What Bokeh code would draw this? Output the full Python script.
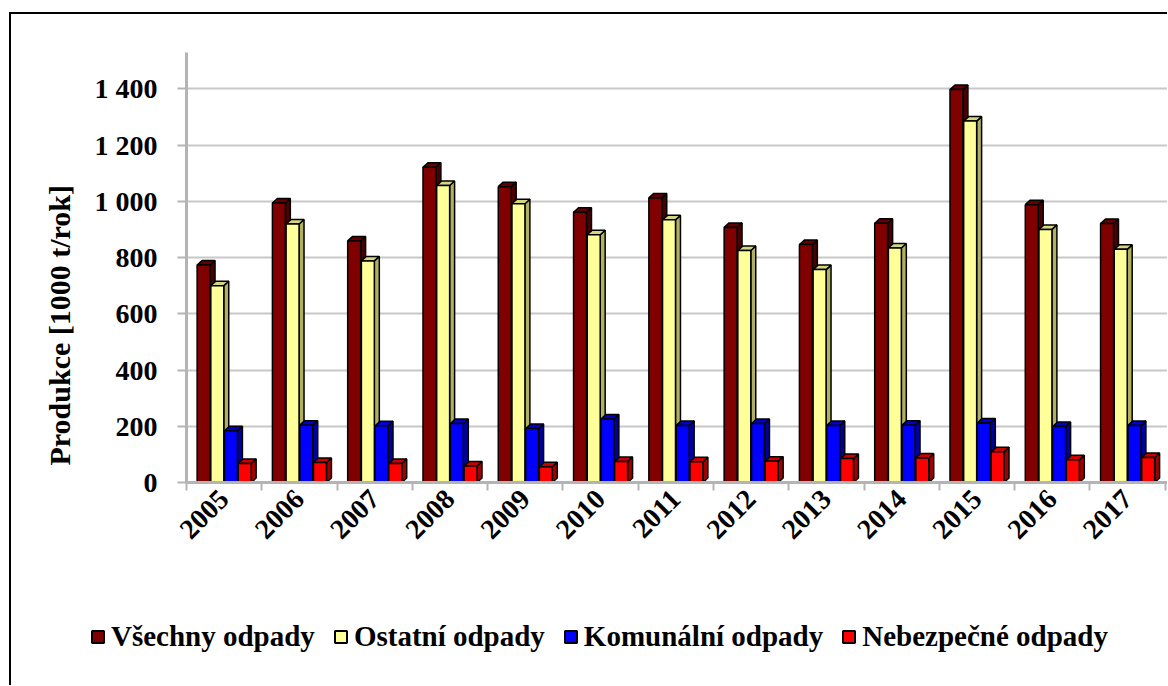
import math
from bokeh.plotting import figure
from bokeh.layouts import column
from bokeh.models import Range1d, FixedTicker, Legend, LegendItem, Title
from bokeh.embed import file_html
from bokeh.resources import INLINE

# ---------------- data ----------------
years = ["2005", "2006", "2007", "2008", "2009", "2010", "2011",
         "2012", "2013", "2014", "2015", "2016", "2017"]
vsechny = [773, 994, 859, 1121, 1052, 961, 1012, 907, 846, 922, 1397, 988, 921]
ostatni = [700, 919, 788, 1056, 991, 881, 934, 825, 757, 834, 1285, 900, 829]
komunalni = [184, 204, 202, 210, 192, 226, 203, 210, 203, 204, 212, 199, 203]
nebezpecne = [68, 71, 68, 59, 56, 75, 74, 76, 85, 87, 109, 81, 89]
series_names = ["Všechny odpady", "Ostatní odpady", "Komunální odpady", "Nebezpečné odpady"]
y_ticks = [0, 200, 400, 600, 800, 1000, 1200, 1400]
y_tick_labels = ["0", "200", "400", "600", "800", "1 000", "1 200", "1 400"]
y_title = "Produkce [1000 t/rok]"

# ---------------- style ----------------
FONT = "Liberation Serif"
front_colors = ["#800000", "#ffff99", "#0000ff", "#ff0000"]
top_colors = ["#660000", "#d6d680", "#0000cc", "#cc0000"]
side_colors = ["#480000", "#b0b060", "#0000a0", "#a00000"]
AXIS_GRAY = "#b4b4b4"
GRID_GRAY = "#c8c8c8"

n = len(years)
p = figure(width=1156, height=590, output_backend="svg", toolbar_location=None,
           x_range=Range1d(0, 13.03), y_range=Range1d(0, 1529),
           min_border_left=175, min_border_right=0, min_border_top=38,
           min_border_bottom=122)
p.outline_line_color = None
p.background_fill_color = "white"
p.border_fill_color = "white"
p.frame_align = False

# x axis (category boundaries as minor ticks, labels at centres)
xa = p.xaxis[0]
xa.ticker = FixedTicker(ticks=[i + 0.5 for i in range(n)], minor_ticks=list(range(n + 1)))
xa.major_label_overrides = {i + 0.5: yr for i, yr in enumerate(years)}
xa.major_tick_line_color = None
xa.major_tick_out = 0
xa.major_tick_in = 0
xa.minor_tick_line_color = AXIS_GRAY
xa.minor_tick_line_width = 2
xa.minor_tick_out = 8
xa.minor_tick_in = 0
xa.axis_line_color = AXIS_GRAY
xa.axis_line_width = 3
xa.major_label_orientation = math.pi / 4
xa.major_label_standoff = 4
xa.major_label_text_font = FONT
xa.major_label_text_font_style = "bold"
xa.major_label_text_font_size = "28px"
xa.major_label_text_color = "black"

# y axis
ya = p.yaxis[0]
ya.ticker = FixedTicker(ticks=y_ticks, minor_ticks=[])
ya.major_label_overrides = {t: lab for t, lab in zip(y_ticks, y_tick_labels)}
ya.major_tick_line_color = AXIS_GRAY
ya.major_tick_line_width = 2
ya.major_tick_out = 9
ya.major_tick_in = 0
ya.minor_tick_line_color = None
ya.axis_line_color = AXIS_GRAY
ya.axis_line_width = 3
ya.major_label_standoff = 20
ya.major_label_text_font = FONT
ya.major_label_text_font_style = "bold"
ya.major_label_text_font_size = "28px"
ya.major_label_text_color = "black"

p.xgrid.visible = False
p.ygrid.grid_line_color = GRID_GRAY
p.ygrid.grid_line_width = 2

# small blank spacer between the tick labels and the axis title
spacer = Title(text=" ", standoff=0, text_font=FONT, text_font_size="8px")
p.add_layout(spacer, "left")
title = Title(text=y_title, align="left", offset=17, standoff=10,
              text_font=FONT, text_font_style="bold", text_font_size="30px",
              text_color="black")
p.add_layout(title, "left")

# ---------------- 3D-looking bars ----------------
pitch = 0.182
bw = 0.172
dx = 0.066   # depth offset in x (data units)
dy = 16.0    # depth offset in y (data units)

all_series = [vsechny, ostatni, komunalni, nebezpecne]
for k, vals in enumerate(all_series):
    off = (k - 1.5) * pitch
    xs_c = [i + 0.5 + off for i in range(n)]
    side_xs, side_ys, top_xs, top_ys = [], [], [], []
    for xc, v in zip(xs_c, vals):
        xl, xr = xc - bw / 2, xc + bw / 2
        side_xs.append([xr, xr + dx, xr + dx, xr])
        side_ys.append([0, dy, v + dy, v])
        top_xs.append([xl, xl + dx, xr + dx, xr])
        top_ys.append([v, v + dy, v + dy, v])
    p.patches(side_xs, side_ys, fill_color=side_colors[k], line_color="black", line_width=1.5)
    p.patches(top_xs, top_ys, fill_color=top_colors[k], line_color="black", line_width=1.5)
    p.vbar(x=xs_c, top=vals, bottom=0, width=bw, fill_color=front_colors[k],
           line_color="black", line_width=1.5)

# ---------------- legend strip ----------------
pl = figure(width=1156, height=81, output_backend="svg", toolbar_location=None,
            x_axis_type=None, y_axis_type=None, x_range=Range1d(0, 1), y_range=Range1d(0, 1),
            min_border=0)
pl.outline_line_color = None
pl.background_fill_color = "white"
pl.border_fill_color = "white"
pl.frame_align = False
nan = float("nan")
swatches = [pl.vbar(x=[nan], top=[nan], bottom=0, width=0.1, fill_color=c, line_color="black",
                    line_width=2) for c in front_colors]
legend = Legend(items=[LegendItem(label=nm, renderers=[r]) for nm, r in zip(series_names, swatches)],
                orientation="horizontal", location=(79, 32))
legend.border_line_color = None
legend.background_fill_alpha = 0
legend.padding = 0
legend.margin = 0
legend.spacing = 18
legend.label_standoff = 6
legend.glyph_width = 15
legend.glyph_height = 15
legend.label_text_font = FONT
legend.label_text_font_style = "bold"
legend.label_text_font_size = "29px"
legend.label_text_color = "black"
pl.add_layout(legend)

layout = column(p, pl, spacing=0)
layout.styles = {"border-left": "2px solid black", "border-top": "2px solid black",
                 "margin-left": "9px", "margin-top": "12px"}

open("out.html", "w").write(file_html(layout, INLINE))
